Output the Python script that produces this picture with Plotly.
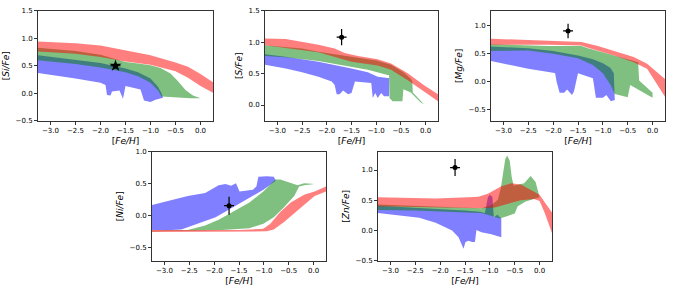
import plotly.graph_objects as go

# ---------------- data ----------------
X_TICKS = [-3.0, -2.5, -2.0, -1.5, -1.0, -0.5, 0.0]
X_RANGE = [-3.25, 0.25]

# [Si/Fe]
si_blue_upper = [(-3.25, 0.69), (-2.5, 0.61), (-2.0, 0.55), (-1.5, 0.45), (-1.25, 0.38), (-1.0, 0.27),
                 (-0.85, 0.12), (-0.78, 0.0), (-0.75, -0.08)]
si_blue_lower = [(-3.25, 0.37), (-2.5, 0.27), (-2.0, 0.19), (-1.9, 0.15), (-1.87, -0.03), (-1.8, -0.04),
                 (-1.77, 0.03), (-1.62, 0.05), (-1.55, -0.10), (-1.5, 0.13), (-1.2, 0.07), (-1.13, -0.13),
                 (-1.0, -0.16), (-0.9, -0.12), (-0.75, -0.08)]
si_green_upper = [(-3.25, 0.83), (-2.5, 0.77), (-2.0, 0.70), (-1.7, 0.63), (-1.5, 0.57), (-1.25, 0.54),
                  (-1.0, 0.51), (-0.8, 0.46), (-0.6, 0.36), (-0.45, 0.22), (-0.3, 0.06), (-0.15, -0.04),
                  (0.0, -0.08)]
si_green_lower = [(-3.25, 0.60), (-2.5, 0.53), (-2.0, 0.47), (-1.5, 0.38), (-1.25, 0.31), (-1.0, 0.19),
                  (-0.85, 0.05), (-0.78, -0.06), (-0.5, -0.08), (-0.2, -0.09), (0.0, -0.09)]
si_red_upper = [(-3.25, 0.94), (-2.5, 0.91), (-2.0, 0.87), (-1.5, 0.78), (-1.0, 0.69), (-0.5, 0.56),
                (-0.25, 0.48), (0.0, 0.35), (0.25, 0.20)]
si_red_lower = [(-3.25, 0.76), (-2.5, 0.72), (-2.0, 0.66), (-1.5, 0.58), (-1.0, 0.52), (-0.5, 0.40),
                (-0.25, 0.28), (0.0, 0.13), (0.25, 0.01)]

# [S/Fe]
s_blue_upper = [(-3.25, 0.81), (-2.83, 0.77), (-2.17, 0.69), (-1.84, 0.64), (-1.5, 0.58), (-1.17, 0.52),
                (-0.97, 0.45), (-0.77, 0.43), (-0.74, 0.43)]
s_blue_lower = [(-3.25, 0.64), (-2.83, 0.58), (-2.5, 0.52), (-2.17, 0.45), (-1.90, 0.375), (-1.84, 0.32),
                (-1.80, 0.17), (-1.74, 0.17), (-1.67, 0.23), (-1.57, 0.17), (-1.50, 0.19), (-1.43, 0.375),
                (-1.10, 0.35), (-1.07, 0.11), (-1.02, 0.19), (-0.97, 0.11), (-0.90, 0.19), (-0.84, 0.14),
                (-0.74, 0.14)]
s_green_upper = [(-3.25, 0.95), (-2.5, 0.90), (-2.17, 0.85), (-1.84, 0.81), (-1.5, 0.76), (-1.0, 0.71),
                 (-0.7, 0.64), (-0.45, 0.52), (-0.3, 0.42), (-0.27, 0.38), (-0.26, 0.20), (-0.03, 0.01)]
s_green_lower = [(-3.25, 0.78), (-2.83, 0.76), (-2.17, 0.70), (-1.84, 0.66), (-1.5, 0.61), (-1.17, 0.56),
                 (-0.77, 0.48), (-0.74, 0.48), (-0.73, 0.11), (-0.67, 0.06), (-0.47, 0.06), (-0.45, 0.25),
                 (-0.30, 0.20), (-0.27, 0.17), (-0.11, 0.05), (-0.03, 0.01)]
s_red_upper = [(-3.25, 1.06), (-2.83, 1.05), (-2.17, 0.96), (-1.84, 0.90), (-1.64, 0.83), (-1.37, 0.78),
               (-0.97, 0.73), (-0.70, 0.66), (-0.37, 0.51), (-0.04, 0.32), (0.25, 0.17)]
s_red_lower = [(-3.25, 0.95), (-2.17, 0.84), (-1.84, 0.77), (-1.5, 0.69), (-0.97, 0.63), (-0.70, 0.56),
               (-0.37, 0.40), (-0.04, 0.22), (0.25, 0.06)]

# [Mg/Fe]
mg_blue_upper = [(-3.25, 0.63), (-2.5, 0.60), (-2.0, 0.55), (-1.5, 0.47), (-1.2, 0.40), (-1.0, 0.33),
                 (-0.85, 0.25), (-0.78, 0.15), (-0.76, -0.33)]
mg_blue_lower = [(-3.25, 0.37), (-2.5, 0.23), (-2.0, 0.16), (-1.96, 0.15), (-1.93, 0.0), (-1.87, -0.2),
                 (-1.78, -0.2), (-1.72, -0.14), (-1.62, -0.24), (-1.58, -0.17), (-1.5, 0.15), (-1.2, 0.06),
                 (-1.14, -0.29), (-1.0, -0.29), (-0.93, -0.24), (-0.84, -0.35), (-0.76, -0.33)]
mg_green_upper = [(-3.25, 0.67), (-2.09, 0.64), (-1.43, 0.64), (-1.3, 0.60), (-0.97, 0.52), (-0.64, 0.44),
                  (-0.29, 0.35), (-0.27, 0.02), (0.0, -0.20)]
mg_green_lower = [(-3.25, 0.55), (-2.5, 0.56), (-2.0, 0.50), (-1.5, 0.42), (-1.2, 0.30), (-1.0, 0.15),
                  (-0.85, -0.05), (-0.76, -0.22), (-0.5, -0.28), (-0.45, -0.06), (-0.1, -0.24), (0.0, -0.29)]
mg_red_upper = [(-3.25, 0.77), (-2.09, 0.74), (-1.43, 0.71), (-1.1, 0.64), (-0.77, 0.55), (-0.38, 0.44),
                (-0.11, 0.32), (0.08, 0.17), (0.25, 0.05)]
mg_red_lower = [(-3.25, 0.66), (-2.09, 0.66), (-1.43, 0.65), (-1.3, 0.61), (-0.77, 0.47), (-0.38, 0.35),
                (-0.11, 0.23), (0.08, -0.03), (0.25, -0.27)]

# [Ni/Fe]
ni_blue_upper = [(-3.30, 0.16), (-2.87, 0.25), (-2.53, 0.31), (-2.18, 0.36), (-1.91, 0.48), (-1.77, 0.50),
                 (-1.66, 0.47), (-1.56, 0.51), (-1.49, 0.38), (-1.22, 0.41), (-1.15, 0.46), (-1.11, 0.61),
                 (-0.94, 0.62), (-0.80, 0.61), (-0.76, 0.56)]
ni_blue_lower = [(-3.30, -0.22), (-2.87, -0.22), (-2.66, -0.21), (-2.32, -0.12), (-1.97, -0.02),
                 (-1.63, 0.13), (-1.29, 0.28), (-1.01, 0.41), (-0.76, 0.55)]
ni_green_upper = [(-3.30, -0.23), (-2.53, -0.22), (-2.18, -0.15), (-1.91, -0.06), (-1.63, 0.06),
                  (-1.29, 0.21), (-1.01, 0.38), (-0.9, 0.47), (-0.77, 0.57), (-0.67, 0.57), (-0.53, 0.53),
                  (-0.32, 0.48), (-0.19, 0.51), (0.02, 0.50)]
ni_green_lower = [(-3.30, -0.24), (-1.84, -0.22), (-1.29, -0.19), (-1.01, -0.12), (-0.80, -0.02),
                  (-0.60, 0.13), (-0.39, 0.31), (-0.29, 0.46), (-0.19, 0.48), (0.02, 0.50)]
ni_red_upper = [(-3.30, -0.22), (-1.49, -0.22), (-1.01, -0.20), (-0.87, -0.12), (-0.67, 0.06),
                (-0.46, 0.21), (-0.19, 0.33), (0.02, 0.38), (0.28, 0.47)]
ni_red_lower = [(-3.30, -0.25), (-0.94, -0.24), (-0.80, -0.21), (-0.60, -0.10), (-0.32, 0.08),
                (-0.12, 0.22), (0.02, 0.31), (0.28, 0.39)]

# [Zn/Fe]
zn_blue_upper = [(-3.25, 0.41), (-2.5, 0.38), (-2.0, 0.36), (-1.5, 0.33), (-1.2, 0.31), (-1.1, 0.29),
                 (-1.04, 0.55), (-1.0, 0.59), (-0.95, 0.56), (-0.92, 0.22), (-0.85, 0.26), (-0.77, 0.20)]
zn_blue_lower = [(-3.25, 0.29), (-2.42, 0.21), (-2.09, 0.13), (-1.76, 0.0), (-1.63, -0.11), (-1.53, -0.30),
                 (-1.49, -0.19), (-1.43, -0.17), (-1.36, -0.19), (-1.30, -0.19), (-1.27, 0.01),
                 (-1.17, -0.03), (-0.97, -0.06), (-0.84, -0.09), (-0.77, -0.11)]
zn_green_upper = [(-3.25, 0.43), (-2.09, 0.40), (-1.17, 0.37), (-0.97, 0.42), (-0.84, 0.51), (-0.78, 0.70),
                  (-0.74, 0.90), (-0.69, 1.18), (-0.65, 1.24), (-0.60, 1.15), (-0.56, 0.88), (-0.52, 0.74),
                  (-0.31, 0.78), (-0.18, 0.90), (-0.08, 0.80), (-0.03, 0.64), (0.0, 0.59)]
zn_green_lower = [(-3.25, 0.34), (-2.5, 0.33), (-2.0, 0.32), (-1.5, 0.30), (-1.17, 0.29), (-1.0, 0.25),
                  (-0.8, 0.20), (-0.74, 0.21), (-0.5, 0.28), (-0.44, 0.40), (-0.28, 0.48), (0.0, 0.55)]
zn_red_upper = [(-3.25, 0.55), (-2.09, 0.53), (-1.43, 0.55), (-1.23, 0.56), (-1.04, 0.61), (-0.77, 0.73),
                (-0.57, 0.78), (-0.38, 0.76), (-0.11, 0.64), (0.0, 0.59), (0.1, 0.47), (0.25, 0.30)]
zn_red_lower = [(-3.25, 0.40), (-2.09, 0.38), (-1.17, 0.37), (-0.9, 0.38), (-0.77, 0.40), (-0.6, 0.45),
                (-0.38, 0.50), (-0.11, 0.52), (0.0, 0.49), (0.1, 0.30), (0.25, -0.04)]

# observed point per panel: x, y, xerr, yerr
obs_x = [-1.70, -1.70, -1.70, -1.70, -1.70]
obs_y = [0.50, 1.08, 0.91, 0.16, 1.04]
obs_xerr = [0.10, 0.10, 0.10, 0.10, 0.10]
obs_yerr = [0.05, 0.13, 0.13, 0.14, 0.14]
obs_symbol = ["star", "circle", "circle", "circle", "circle"]

panel_labels = ["Si", "S", "Mg", "Ni", "Zn"]
y_ranges = [[-0.5, 1.5], [-0.25, 1.5], [-0.7, 1.27], [-0.7, 1.0], [-0.5, 1.3]]
y_ticks = [[-0.5, 0.0, 0.5, 1.0, 1.5], [0.0, 0.5, 1.0, 1.5], [-0.5, 0.0, 0.5, 1.0],
           [-0.5, 0.0, 0.5, 1.0], [-0.5, 0.0, 0.5, 1.0]]

bands = [
    [(si_blue_upper, si_blue_lower), (si_green_upper, si_green_lower), (si_red_upper, si_red_lower)],
    [(s_blue_upper, s_blue_lower), (s_green_upper, s_green_lower), (s_red_upper, s_red_lower)],
    [(mg_blue_upper, mg_blue_lower), (mg_green_upper, mg_green_lower), (mg_red_upper, mg_red_lower)],
    [(ni_blue_upper, ni_blue_lower), (ni_green_upper, ni_green_lower), (ni_red_upper, ni_red_lower)],
    [(zn_blue_upper, zn_blue_lower), (zn_green_upper, zn_green_lower), (zn_red_upper, zn_red_lower)],
]
band_colors = ["rgba(0,0,255,0.5)", "rgba(0,128,0,0.5)", "rgba(255,0,0,0.5)"]

# ---------------- layout (pixel boxes) ----------------
W, H = 673, 294
boxes = [(38, 213, 7, 120), (265, 438, 7, 120), (491, 665, 7, 120),
         (152, 326, 152, 264), (378, 552, 152, 264)]

fig = go.Figure()
font_family = "DejaVu Sans"
layout = dict(width=W, height=H, margin=dict(l=0, r=0, t=0, b=0),
              paper_bgcolor="white", plot_bgcolor="white", showlegend=False,
              font=dict(family=font_family, size=7, color="#000"))

for i in range(5):
    xa = "x" if i == 0 else f"x{i+1}"
    ya = "y" if i == 0 else f"y{i+1}"
    for (up, lo), col in zip(bands[i], band_colors):
        xs = [p[0] for p in up] + [p[0] for p in reversed(lo)]
        ys = [p[1] for p in up] + [p[1] for p in reversed(lo)]
        fig.add_trace(go.Scatter(x=xs, y=ys, mode="lines", fill="toself", fillcolor=col,
                                 line=dict(width=0, color=col), hoverinfo="skip",
                                 xaxis=xa, yaxis=ya))
    fig.add_trace(go.Scatter(
        x=[obs_x[i]], y=[obs_y[i]], mode="markers",
        marker=dict(symbol=obs_symbol[i], size=9 if obs_symbol[i] == "star" else 5, color="black"),
        error_x=dict(type="data", array=[obs_xerr[i]], color="black", thickness=1.2, width=0),
        error_y=dict(type="data", array=[obs_yerr[i]], color="black", thickness=1.2, width=0),
        xaxis=xa, yaxis=ya))

    l, r, t, b = boxes[i]
    axis_common = dict(showline=True, mirror=True, linecolor="#333", linewidth=1,
                       ticks="outside", ticklen=3, tickwidth=1, tickcolor="#333",
                       showgrid=False, zeroline=False,
                       tickfont=dict(family=font_family, size=7, color="#000"))
    layout["xaxis" if i == 0 else f"xaxis{i+1}"] = dict(
        axis_common, domain=[l / W, r / W], range=X_RANGE, tickvals=X_TICKS,
        tickformat=".1f", anchor=ya,
        title=dict(text="[<i>Fe/H</i>]", font=dict(family=font_family, size=9), standoff=3))
    layout["yaxis" if i == 0 else f"yaxis{i+1}"] = dict(
        axis_common, domain=[1 - b / H, 1 - t / H], range=y_ranges[i], tickvals=y_ticks[i],
        tickformat=".1f", anchor=xa,
        title=dict(text=f"[<i>{panel_labels[i]}/Fe</i>]", font=dict(family=font_family, size=9),
                   standoff=4))

fig.update_layout(**layout)
fig.write_html("out.html", config={"displayModeBar": False},
               post_script="document.body.style.margin='0';document.body.style.overflow='hidden';")
